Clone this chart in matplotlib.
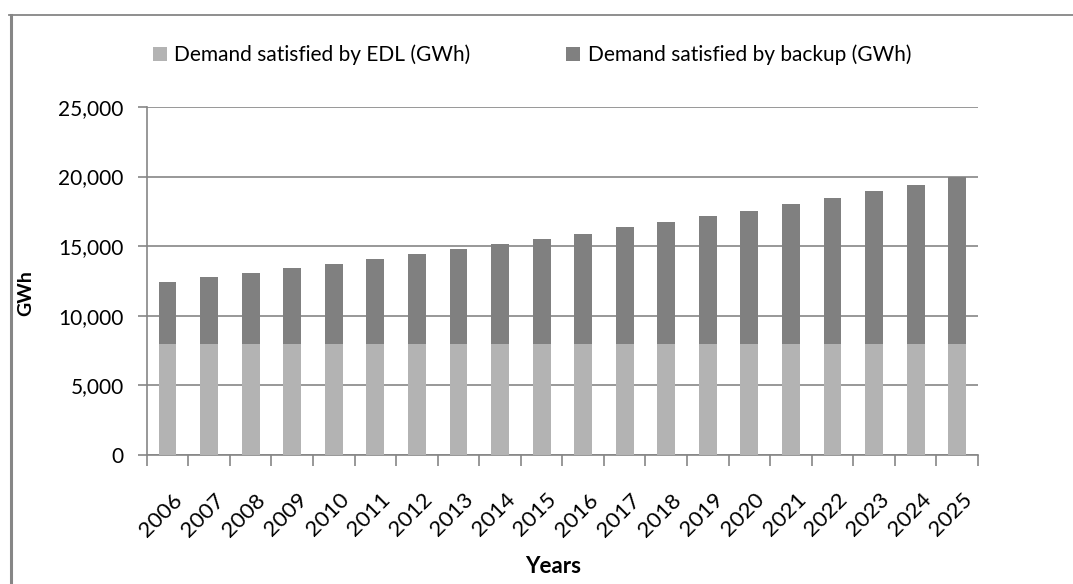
import matplotlib
matplotlib.use("Agg")
import matplotlib.pyplot as plt
import matplotlib.transforms as mtransforms
from matplotlib.lines import Line2D
from matplotlib.ticker import FuncFormatter
import numpy as np

# Datos
years = [str(y) for y in range(2006, 2026)]
edl = [8000] * 20
total = [12450, 12800, 13100, 13450, 13750, 14100, 14450, 14800, 15150, 15500,
         15900, 16400, 16750, 17150, 17550, 18050, 18450, 18950, 19400, 20000]
backup = [t - e for t, e in zip(total, edl)]

plt.rcParams['font.family'] = ['Lato', 'DejaVu Sans']

fig = plt.figure(figsize=(10.73, 5.84), dpi=100)
ax = fig.add_axes([0.1367, 0.2209, 0.7748, 0.5959])

x = np.arange(len(years))
ax.bar(x, edl, width=0.43, color='#b3b3b3', label='Demand satisfied by EDL (GWh)', zorder=3)
ax.bar(x, backup, width=0.43, bottom=edl, color='#808080',
       label='Demand satisfied by backup (GWh)', zorder=3)

ax.set_xlim(-0.5, len(years) - 0.5)
ax.set_ylim(0, 25000)
ax.set_yticks(range(0, 25001, 5000))
ax.yaxis.set_major_formatter(FuncFormatter(lambda v, p: f"{int(v):,}"))
ax.grid(axis='y', color='#868686', linewidth=1.2, zorder=0)

# Ejes
for side in ['top', 'right']:
    ax.spines[side].set_visible(False)
for side in ['left', 'bottom']:
    ax.spines[side].set_color('#868686')
    ax.spines[side].set_linewidth(1.2)

ax.set_xticks(x)
ax.set_xticklabels(years, rotation=45, ha='right', rotation_mode='anchor', fontsize=16)
ax.set_xticks(np.arange(-0.5, len(years)), minor=True)
ax.tick_params(axis='x', which='major', length=0, pad=25)
ax.tick_params(axis='x', which='minor', length=8, width=1.2, color='#868686')
ax.tick_params(axis='y', length=6.5, width=1.2, color='#868686', labelsize=15, pad=10)
offset = mtransforms.ScaledTranslation(5 / 100, 0, fig.dpi_scale_trans)
for lbl in ax.get_xticklabels():
    lbl.set_transform(lbl.get_transform() + offset)

ax.set_xlabel('Years', fontsize=16, fontweight='bold')
ax.xaxis.set_label_coords(0.489, -0.29)
ax.set_ylabel('GWh', fontsize=14, fontweight='bold')
ax.yaxis.set_label_coords(-0.135, 0.466)

ax.legend(loc='center left', bbox_to_anchor=(153 / 1073, 1 - 55 / 584),
          bbox_transform=fig.transFigure, ncol=2, frameon=False, fontsize=15,
          handlelength=0.67, handleheight=0.67, columnspacing=4.6,
          handletextpad=0.35, borderpad=0, borderaxespad=0)

# Marco exterior
fig.add_artist(Line2D([10.5 / 1073, 10.5 / 1073], [0, 1 - 15 / 584], color='#868686', lw=2.2))
fig.add_artist(Line2D([9 / 1073, 1], [1 - 15 / 584, 1 - 15 / 584], color='#868686', lw=1.3))

fig.savefig('out.png', dpi=100)
